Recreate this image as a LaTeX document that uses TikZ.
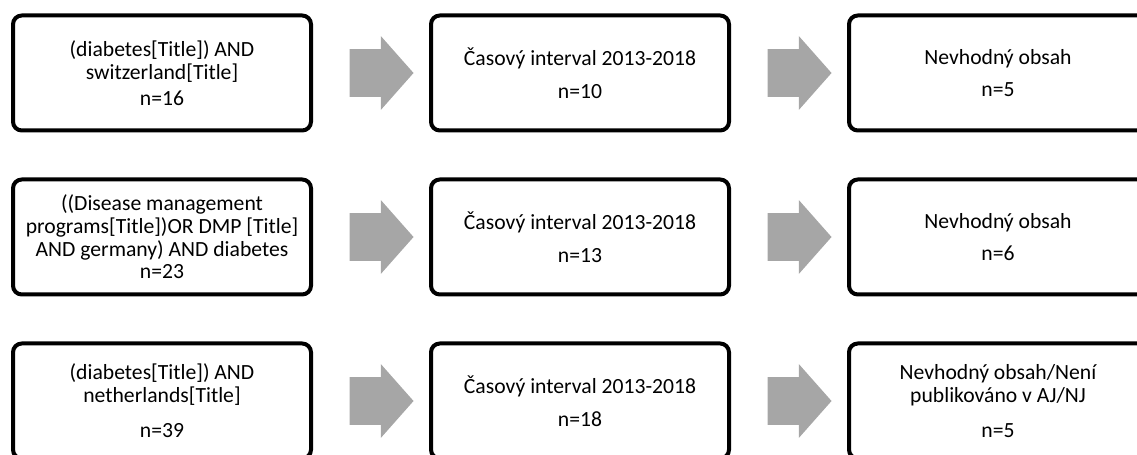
\documentclass[tikz,border=0pt]{standalone}
\usepackage{fontspec}
\setmainfont{Carlito}
\usetikzlibrary{positioning, shapes.arrows, calc}
\definecolor{arrowgray}{RGB}{166,166,166}
\tikzset{
  block/.style={
    draw,
    rectangle,
    rounded corners=0.22cm,
    line width=0.1cm,
    minimum width=7.45cm,
    minimum height=2.875cm,
    align=center,
    font=\fontsize{15.4}{16.2}\selectfont
  },
  fatarrow/.style={
    single arrow,
    fill=arrowgray,
    draw=none,
    inner xsep=0pt,
    inner ysep=0.5875cm,
    minimum height=1.6cm,
    single arrow head extend=0.325cm,
    single arrow tip angle=97
  }
}

\begin{document}
\begin{tikzpicture}
    \useasboundingbox (0,0) rectangle (28.425,11.375);
    \clip (0,0) rectangle (28.425,11.375);

    % row 1
    \node[block] (query1) at (4.05,9.55) {(diabetes[Title]) AND\\ switzerland[Title]\\[2pt] n=16};
    \node[block, right=2.9cm of query1] (time1) {Časový interval 2013-2018\\[7pt] n=10};
    \node[block, right=2.9cm of time1] (content1) {Nevhodný obsah\\[7pt] n=5};

    % row 2
    \node[block, below=1.125cm of query1] (query2) {((Disease management\\ programs[Title])OR DMP [Title]\\ AND germany) AND diabetes\\ n=23};
    \node[block, right=2.9cm of query2] (time2) {Časový interval 2013-2018\\[7pt] n=13};
    \node[block, right=2.9cm of time2] (content2) {Nevhodný obsah\\[7pt] n=6};

    % row 3
    \node[block, below=1.125cm of query2] (query3) {(diabetes[Title]) AND\\ netherlands[Title]\\[9pt] n=39};
    \node[block, right=2.9cm of query3] (time3) {Časový interval 2013-2018\\[7pt] n=18};
    \node[block, right=2.9cm of time3] (content3) {Nevhodný obsah/Není\\ publikováno v AJ/NJ\\[9pt] n=5};

    \foreach \row in {1,2,3} {
        \node[fatarrow] (arrowA\row) at ($(query\row.east)!0.5!(time\row.west)$) {};
        \node[fatarrow] (arrowB\row) at ($(time\row.east)!0.5!(content\row.west)$) {};
    }
\end{tikzpicture}
\end{document}
